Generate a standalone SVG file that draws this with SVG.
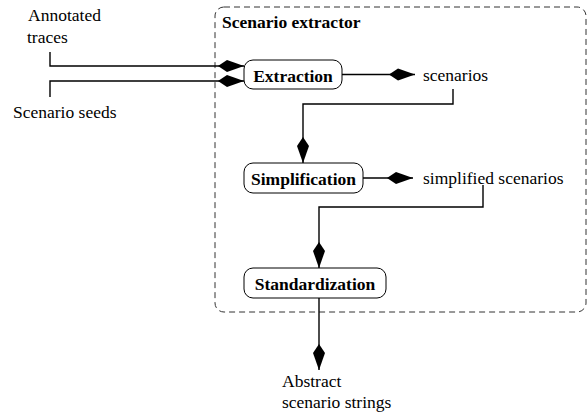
<svg xmlns="http://www.w3.org/2000/svg" width="588" height="413" viewBox="0 0 588 413">
<style>
text{font-size:17.5px;fill:#000}
.b{font-weight:bold}
.node{fill:#fff;stroke:#000;stroke-width:1}
.c{fill:none;stroke:#000;stroke-width:1.4}
.frame{fill:none;stroke:#333;stroke-width:1;stroke-dasharray:6,4}
</style>
<defs>
<marker id="ah" markerUnits="userSpaceOnUse" markerWidth="28" markerHeight="14" refX="26" refY="0" viewBox="0 -7 28 14" orient="auto" overflow="visible">
<path d="M0,0 L9,-6 L26,0 L9,6 Z" fill="#000"/>
</marker>
</defs>
<g font-family="Liberation Serif, Tinos, Times New Roman, DejaVu Serif, serif">
<g id="extractor">
<rect class="frame" x="215" y="7" width="371" height="305" rx="9"/>
<text class="b" x="222" y="28">Scenario extractor</text>
</g>
<g id="connectors">
<path class="c" d="M50,52 V66 H244" marker-end="url(#ah)"/>
<path class="c" d="M50,97 V81 H244" marker-end="url(#ah)"/>
<path class="c" d="M342,74.5 H415" marker-end="url(#ah)"/>
<path class="c" d="M453,89 V104 H303 V163" marker-end="url(#ah)"/>
<path class="c" d="M363,178 H413" marker-end="url(#ah)"/>
<path class="c" d="M483,185 V207 H319 V268" marker-end="url(#ah)"/>
<path class="c" d="M319,298 V370" marker-end="url(#ah)"/>
</g>
<g id="annotated-traces">
<text x="28" y="21">Annotated</text>
<text x="27" y="43">traces</text>
</g>
<g id="scenario-seeds">
<text x="13" y="118">Scenario seeds</text>
</g>
<g id="extraction">
<rect class="node" x="244" y="60" width="98" height="29" rx="9"/>
<text class="b" x="293" y="82" text-anchor="middle">Extraction</text>
</g>
<g id="scenarios">
<text x="423" y="81">scenarios</text>
</g>
<g id="simplification">
<rect class="node" x="244" y="163" width="119" height="30" rx="9"/>
<text class="b" x="303.5" y="185" text-anchor="middle">Simplification</text>
</g>
<g id="simplified-scenarios">
<text x="423" y="184">simplified scenarios</text>
</g>
<g id="standardization">
<rect class="node" x="244" y="268" width="142" height="30" rx="9"/>
<text class="b" x="315" y="290" text-anchor="middle">Standardization</text>
</g>
<g id="abstract">
<text x="282" y="387">Abstract</text>
<text x="282" y="408">scenario strings</text>
</g>
</g>
</svg>
